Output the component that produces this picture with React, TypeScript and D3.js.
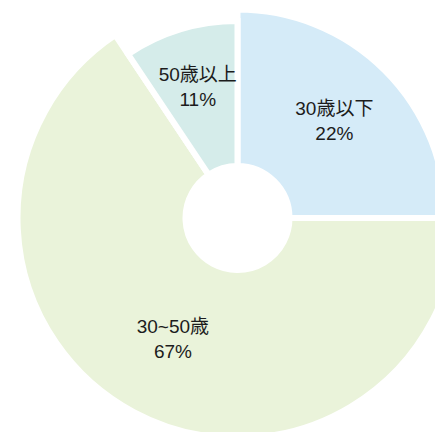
import React from 'react';
import * as d3 from 'd3';

// age groups, clockwise from 12 o'clock
const categories = ['30歳以下', '30~50歳', '50歳以上'];
// slice weights (90°, ~236°, ~34°)
const sliceWeights = [8, 21, 3];
// percentages printed on the slices
const percentLabels = ['22%', '67%', '11%'];
const colors = ['#d5ebf8', '#eaf3da', '#d5ecea'];

const width = 435;
const height = 432;
const cx = 237.5;
const cy = 218;
const innerRadius = 52;
const labelRadius = 137;

const App = () => {
  const data = categories.map((c, i) => ({
    name: c,
    weight: sliceWeights[i],
    label: percentLabels[i],
    color: colors[i],
  }));

  const pie = d3
    .pie<any>()
    .sort(null)
    .value((d) => d.weight)
    .startAngle(0)
    .endAngle(2 * Math.PI);

  // bigger groups get a slightly longer slice
  const byWeight = [...data].sort((a, b) => a.weight - b.weight).map((d) => d.name);
  const radius = d3.scalePoint<string>().domain(byWeight).range([197, 220]);

  const arcs = pie(data);
  const labelArc = d3.arc<any>().innerRadius(labelRadius).outerRadius(labelRadius);

  return (
    <svg
      width={width}
      height={height}
      style={{ position: 'absolute', left: 0, top: 0 }}
      fontFamily="'Liberation Sans', 'Noto Sans CJK JP', sans-serif"
    >
      <g transform={`translate(${cx},${cy})`}>
        {arcs.map((a) => {
          const path = d3
            .arc<any>()
            .innerRadius(innerRadius)
            .outerRadius(radius(a.data.name) as number)(a);
          return (
            <path
              key={a.data.name}
              d={path || ''}
              fill={a.data.color}
              stroke="#fff"
              strokeWidth={6}
            />
          );
        })}
        {arcs.map((a) => {
          const [x, y] = labelArc.centroid(a);
          return (
            <text key={'t' + a.data.name} textAnchor="middle" fontSize={19} fill="#1c1c1c">
              <tspan x={x} y={y - 6}>
                {a.data.name}
              </tspan>
              <tspan x={x} y={y + 19}>
                {a.data.label}
              </tspan>
            </text>
          );
        })}
      </g>
    </svg>
  );
};

export default App;
